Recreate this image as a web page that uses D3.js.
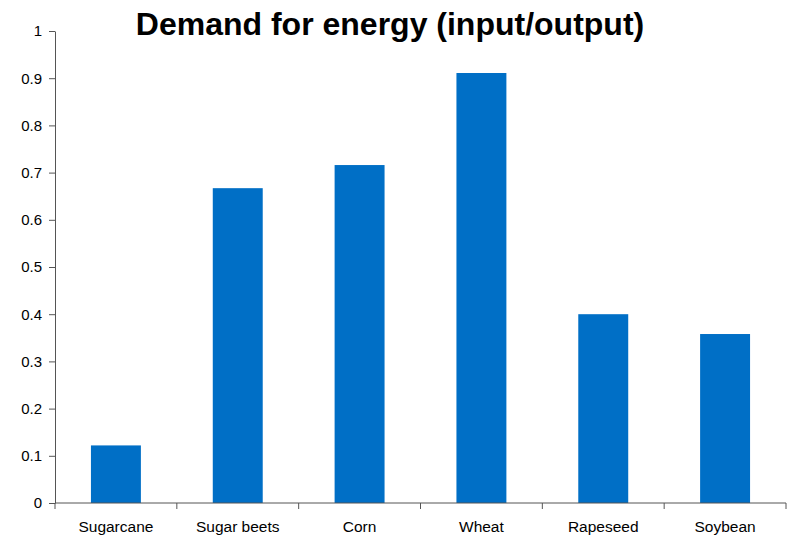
<!DOCTYPE html>
<html>
<head>
<meta charset="utf-8">
<script src="https://cdn.jsdelivr.net/npm/d3@7"></script>
<style>
  html, body { margin: 0; padding: 0; background: #fff; }
  svg { display: block; font-family: "Liberation Sans", Arial, sans-serif; }
</style>
</head>
<body>
<svg id="chart" width="788" height="538"></svg>
<script>
const categories = ["Sugarcane", "Sugar beets", "Corn", "Wheat", "Rapeseed", "Soybean"];
const values = [0.122, 0.667, 0.716, 0.911, 0.400, 0.358];
const yTicks = [0, 0.1, 0.2, 0.3, 0.4, 0.5, 0.6, 0.7, 0.8, 0.9, 1];
const title = "Demand for energy (input/output)";

const svg = d3.select("#chart");
const margin = { left: 55, right: 2, top: 31, bottom: 35 };
const W = 788, H = 538;

const x = d3.scaleBand()
  .domain(categories)
  .range([margin.left, W - margin.right])
  .paddingInner(0.59)
  .paddingOuter(0.295);

const y = d3.scaleLinear()
  .domain([0, 1])
  .range([H - margin.bottom, margin.top]);

// bars
svg.append("g")
  .selectAll("rect")
  .data(categories)
  .join("rect")
  .attr("x", d => x(d))
  .attr("width", x.bandwidth())
  .attr("y", (d, i) => y(values[i]))
  .attr("height", (d, i) => y(0) - y(values[i]))
  .attr("fill", "#006fc6");

// y axis
const yAxis = svg.append("g")
  .attr("transform", `translate(${margin.left},0)`)
  .call(d3.axisLeft(y).tickValues(yTicks).tickSize(6).tickSizeOuter(0)
    .tickFormat(d => d === 0 ? "0" : d === 1 ? "1" : d3.format(".1f")(d)));
yAxis.select(".domain").attr("stroke", "#555");
yAxis.selectAll(".tick line").attr("stroke", "#555");
yAxis.selectAll(".tick text")
  .attr("x", -13)
  .attr("font-size", 15)
  .attr("font-family", "Liberation Sans, Arial, sans-serif")
  .attr("fill", "#000");

// x axis: ticks between categories
const xStep = x.step();
const boundaries = d3.range(categories.length + 1).map(i => margin.left + i * xStep);
const xg = svg.append("g");
xg.append("line")
  .attr("x1", margin.left).attr("x2", W - margin.right)
  .attr("y1", y(0)).attr("y2", y(0))
  .attr("stroke", "#555");
xg.selectAll("line.tk")
  .data(boundaries)
  .join("line")
  .attr("class", "tk")
  .attr("x1", d => d).attr("x2", d => d)
  .attr("y1", y(0)).attr("y2", y(0) + 6)
  .attr("stroke", "#555");
xg.selectAll("text")
  .data(categories)
  .join("text")
  .attr("x", d => x(d) + x.bandwidth() / 2)
  .attr("y", y(0) + 29)
  .attr("text-anchor", "middle")
  .attr("font-size", 15.5)
  .attr("fill", "#000")
  .text(d => d);

// title
svg.append("text")
  .attr("x", 390)
  .attr("y", 35)
  .attr("text-anchor", "middle")
  .attr("font-size", 32)
  .attr("font-weight", "bold")
  .attr("fill", "#000")
  .text(title);
</script>
</body>
</html>
